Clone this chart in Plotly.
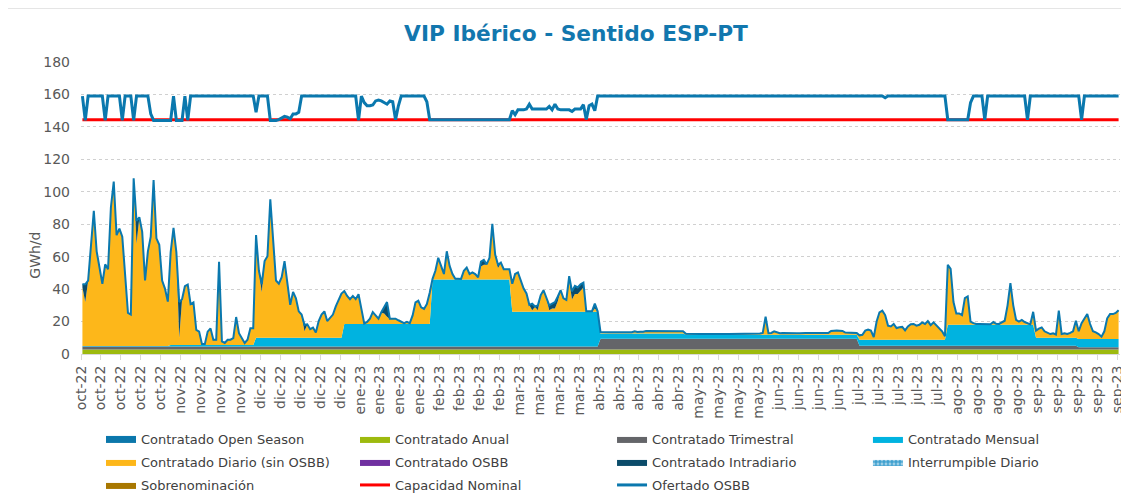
import numpy as np
import pandas as pd
import plotly.graph_objects as go

# días del periodo (gas day), oct-22 a sep-23
fechas = pd.date_range("2022-10-01", "2023-09-30", freq="D")
meses = ["ene", "feb", "mar", "abr", "may", "jun", "jul", "ago", "sep", "oct", "nov", "dic"]

# productos de plazo fijo: valor por tramo (GWh/d)
inicio_tramo = ["2022-10-01", "2022-11-01", "2022-12-01", "2023-01-01", "2023-02-01", "2023-03-01",
                "2023-04-01", "2023-05-01", "2023-07-01", "2023-08-01", "2023-09-01", "2023-09-16"]
anual = [2.7, 2.7, 2.7, 2.7, 2.7, 2.7, 2.7, 2.7, 2.7, 2.7, 2.7, 2.7]
trimestral = [2.0, 2.0, 2.0, 2.0, 2.0, 2.0, 6.7, 6.7, 2.4, 2.4, 2.4, 1.5]
mensual = [0.3, 0.8, 5.3, 13.8, 41.3, 21.3, 3.3, 2.5, 3.7, 12.9, 4.9, 5.0]

# contratado diario (sin OSBB), por día
diario = (
    # oct-22
    [36, 27, 40, 64, 83, 58, 49, 38, 50, 47, 85, 101, 68, 72, 67, 44, 20, 19, 103, 63, 79, 70, 40, 58,
     67, 102, 66, 62, 40, 35, 27]
    # nov-22
    + [57, 72, 57, 4.5, 28, 36, 37, 25, 26, 9, 8, 0.3, 0.3, 8, 10, 3, 3, 51, 2, 1, 3, 3, 4, 17, 7, 4,
       1, 3, 10, 10]
    # dic-22
    + [63, 41, 28, 47, 50, 85, 60, 35, 33, 37, 47, 33, 20, 28, 24, 16, 14, 4, 8, 5, 6, 3, 10, 14, 16,
       10, 12, 14, 19, 23, 27]
    # ene-23
    + [20, 17, 15, 17, 15, 18, 9, 0, 1, 3, 7, 5, 3, 7, 6.5, 4.5, 3, 3, 3, 2, 1, 0.2, 1, 0.2, 5, 13,
       14, 10, 9, 12, 19]
    # feb-23
    + [0, 5, 13, 8, 3, 17, 8, 3, 0.1, 0.1, 0, 5, 7, 3, 4, 3, 1, 8, 9, 9, 13, 34, 15, 7, 10, 6, 6, 6]
    # mar-23
    + [17, 23, 24, 19, 14, 11, 4, 1, 3, 1, 10, 13, 8, 1, 2, 2, 6.5, 13, 8, 7, 19, 7.6, 11, 11, 13, 15,
       0, 0, 0, 2, 0]
    # abr-23
    + [0.6, 0.4, 0.4, 0.4, 0.4, 0.4, 0.4, 0.4, 0.4, 0.4, 0.4, 0.4, 1.0, 0.6, 0.7, 0.7, 1.2, 1.2, 1.2,
       1.2, 0.9, 0.9, 0.9, 0.9, 0.9, 0.9, 1.0, 1.0, 1.0, 1.0]
    # may-23
    + [0.3, 0.2, 0.2, 0.1, 0.1, 0.2, 0.2, 0.1, 0.1, 0.1, 0.2, 0.2, 0.3, 0.2, 0.1, 0.1, 0.1, 0.4, 0.2,
       0.2, 0.2, 0.3, 0.2, 0.2, 0.3, 0.3, 0.4, 0.8, 10.8, 0.6, 0.8]
    # jun-23
    + [1.8, 1.0, 0.6, 0.7, 0.6, 0.6, 0.7, 0.7, 0.6, 0.6, 0.8, 0.8, 0.7, 0.6, 0.6, 0.7, 0.8, 0.8, 0.7,
       0.7, 2.0, 2.3, 2.3, 2.2, 2.0, 1.0, 1.0, 0.9, 0.9, 0.8]
    # jul-23
    + [2.4, 2.7, 5.3, 5.9, 5.3, 1.4, 10.9, 16.6, 17.6, 14.9, 8.4, 7.9, 9.4, 6.9, 7.4, 7.6, 5.5, 7.9,
       9.3, 9.4, 8.4, 8.9, 10.4, 9.4, 11.2, 8.7, 10.4, 8.4, 6.7, 4.9, 1.9]
    # ago-23
    + [36.7, 34.2, 13.7, 6.7, 6.7, 5.7, 16.2, 17.2, 1.7, 0.7, 0.2, 0.2, 0.2, 0.2, 0.1, 0, 1.4, 0.3,
       0.2, 1.4, 2.2, 11.7, 25.4, 11.7, 2.7, 1.7, 2.7, 1.4, 0.7, 0, 7.7]
    # sep-23
    + [4.1, 5.3, 6.1, 3.7, 2.7, 2, 2.4, 1.7, 16.4, 2, 2.4, 2, 2.7, 3.7, 10.2, 4.5, 9.5, 12.5, 15.1, 9,
       4.5, 3.8, 2.8, 1.2, 4.5, 12.5, 15.1, 15.1, 15.8, 17.5]
)

intradiario = (
    [2, 11, 0.3, 0.3, 0.3, 0.3, 0.3, 0.3, 0.3, 0.3, 0.3, 0.3, 0.3, 0.3, 0.3, 0.3, 0.3, 0.3, 0.3, 14,
     0.3, 0.3, 0.3, 0.3, 0.3, 0.3, 0.3, 0.3, 0.3, 0.3, 0.3]
    + [0.3, 0.3, 0.3, 22, 0.3, 0.3, 0.3, 0.3, 0.3, 0.3, 0.3, 0.3, 0.3, 0.3, 0.3, 0.3, 0.3, 0.3, 0.3,
       0.3, 0.3, 0.3, 0.3, 0.3, 0.3, 0.3, 0.3, 0.3, 0.3, 0.3]
    + [0.3, 0.3, 5, 0.3, 0.3, 0.3, 0.3, 0.3, 0.3, 0.3, 0.3, 0.3, 0.3, 0.3, 0.3, 0.3, 0.3, 4, 0.3, 0.3,
       0.3, 0.3, 0.3, 0.3, 0.3, 0.3, 0.3, 0.3, 0.3, 0.3, 0.3]
    + [0.3, 0.3, 0.3, 0.3, 0.3, 0.3, 0.3, 0.3, 0.3, 0.3, 0.3, 0.3, 0.3, 0.3, 4, 9, 0.3, 0.3, 0.3, 0.3,
       0.3, 0.3, 0.3, 0.3, 0.3, 0.3, 0.3, 0.3, 0.3, 0.3, 0.3]
    + [0.3, 0.3, 0.3, 0.3, 0.3, 0.3, 0.3, 0.3, 0.3, 0.3, 0.3, 0.3, 0.3, 0.3, 0.3, 0.3, 0.3, 3, 3, 0.3,
       0.3, 0.3, 0.3, 2, 0.3, 0.3, 0.3, 0.3]
    + [0.3, 0.3, 0.3, 0.3, 0.3, 0.3, 0.3, 4, 0.3, 3, 0.3, 0.3, 0.3, 3, 3, 4, 3, 0.3, 0.3, 0.3, 3, 5,
       5, 4, 4, 3, 0.3, 0.3, 0.3, 3, 0.3]
    + [0.3, 0.3, 0.3, 0.3, 0.3, 0.3, 0.3, 0.3, 0.3, 0.3, 0.3, 0.3, 0.3, 0.3, 0.3, 0.3, 0.3, 0.3, 0.3,
       0.3, 0.3, 0.3, 0.3, 0.3, 0.3, 0.3, 0.3, 0.3, 0.3, 0.3]
    + [0.3, 0.3, 0.3, 0.3, 0.3, 0.3, 0.3, 0.3, 0.3, 0.3, 0.3, 0.3, 0.3, 0.3, 0.3, 0.3, 0.3, 0.3, 0.3,
       0.3, 0.3, 0.3, 0.3, 0.3, 0.3, 0.3, 0.3, 0.3, 0.3, 0.3, 0.3]
    + [0.3, 0.3, 0.3, 0.3, 0.3, 0.3, 0.3, 0.3, 0.3, 0.3, 0.3, 0.3, 0.3, 0.3, 0.3, 0.3, 0.3, 0.3, 0.3,
       0.3, 0.3, 0.3, 0.3, 0.3, 0.3, 0.3, 0.3, 0.3, 0.3, 0.3]
    + [0.3, 0.3, 0.3, 0.3, 0.3, 0.3, 0.3, 0.3, 0.3, 0.3, 0.3, 0.3, 0.3, 0.3, 0.3, 0.3, 0.3, 0.3, 0.3,
       0.3, 0.3, 0.3, 0.3, 0.3, 0.3, 0.3, 0.3, 0.3, 0.3, 0.3, 0.3]
    + [0.3, 0.3, 0.3, 0.3, 0.3, 0.3, 0.3, 0.3, 0.3, 0.3, 0.3, 0.3, 0.3, 0.3, 0.3, 0.3, 0.3, 0.3, 0.3,
       0.3, 0.3, 0.3, 0.3, 0.3, 0.3, 0.3, 0.3, 0.3, 0.3, 0.3, 0.3]
    + [0.3, 0.3, 0.3, 0.3, 0.3, 0.3, 0.3, 0.3, 0.3, 0.3, 0.3, 0.3, 0.3, 0.3, 0.3, 0.3, 0.3, 0.3, 0.3,
       0.3, 0.3, 0.3, 0.3, 0.3, 0.3, 0.3, 0.3, 0.3, 0.3, 0.3]
)

ofertado_osbb = (
    [159, 144, 159, 159, 159, 159, 159, 159, 144, 159, 159, 159, 159, 159, 144, 159, 159, 159, 144,
     159, 159, 159, 159, 159, 148, 144, 144, 144, 144, 144, 144]
    + [144, 159, 144, 144, 144, 159, 144, 159, 159, 159, 159, 159, 159, 159, 159, 159, 159, 159, 159,
       159, 159, 159, 159, 159, 159, 159, 159, 159, 159, 159]
    + [149, 159, 159, 159, 159, 144, 144, 144, 144.5, 145.5, 146.5, 146, 145, 148, 148, 149, 159, 159,
       159, 159, 159, 159, 159, 159, 159, 159, 159, 159, 159, 159, 159]
    + [159, 159, 159, 159, 159, 144, 159, 155, 153, 153, 153.5, 156, 156.5, 156, 155, 154, 156, 155.5,
       144.4, 153, 159, 159, 159, 159, 159, 159, 159, 159, 159, 155.5, 144.4]
    + [144.4, 144.4, 144.4, 144.4, 144.4, 144.4, 144.4, 144.4, 144.4, 144.4, 144.4, 144.4, 144.4,
       144.4, 144.4, 144.4, 144.4, 144.4, 144.4, 144.4, 144.4, 144.4, 144.4, 144.4, 144.4, 144.4,
       144.4, 144.4]
    + [150, 147.5, 150.5, 150.5, 150.5, 151, 154, 151, 151, 151, 151, 151, 151, 152.6, 150.5, 154, 151,
       150.5, 150.5, 150.5, 150.5, 149.5, 151, 151, 151, 153.7, 144.6, 153, 154, 150, 159]
    + [159, 159, 159, 159, 159, 159, 159, 159, 159, 159, 159, 159, 159, 159, 159, 159, 159, 159, 159,
       159, 159, 159, 159, 159, 159, 159, 159, 159, 159, 159]
    + [159, 159, 159, 159, 159, 159, 159, 159, 159, 159, 159, 159, 159, 159, 159, 159, 159, 159, 159,
       159, 159, 159, 159, 159, 159, 159, 159, 159, 159, 159, 159]
    + [159, 159, 159, 159, 159, 159, 159, 159, 159, 159, 159, 159, 159, 159, 159, 159, 159, 159, 159,
       159, 159, 159, 159, 159, 159, 159, 159, 159, 159, 159]
    + [159, 159, 159, 159, 159, 159, 159, 159, 159, 158, 159, 159, 159, 159, 159, 159, 159, 159, 159,
       159, 159, 159, 159, 159, 159, 159, 159, 159, 159, 159, 159]
    + [144.4, 144.4, 144.4, 144.4, 144.4, 144.4, 144.4, 144.4, 155, 159, 159, 159, 159, 144.4, 159,
       159, 159, 159, 159, 159, 159, 159, 159, 159, 159, 159, 159, 159, 144.4, 159, 159]
    + [159, 159, 159, 159, 159, 159, 159, 159, 159, 159, 159, 159, 159, 159, 159, 159, 144.4, 159, 159,
       159, 159, 159, 159, 159, 159, 159, 159, 159, 159, 159]
)

capacidad_nominal = 144.4

# series sin actividad en el periodo
open_season = [0] * len(fechas)
osbb = [0] * len(fechas)
interrumpible = [0] * len(fechas)
sobrenominacion = [0] * len(fechas)

# valores por tramo -> por día
idx = np.searchsorted(pd.to_datetime(inicio_tramo).values, fechas.values, side="right") - 1
anual_d = np.array(anual)[idx]
trimestral_d = np.array(trimestral)[idx]
mensual_d = np.array(mensual)[idx]

font = "DejaVu Sans"
gris = "#595959"

fig = go.Figure()

# leyenda en 4 columnas (legend..legend4), una fila por posición
def area(nombre, y, color, col, fila_n, pattern=None, linea=None):
    fig.add_trace(go.Scatter(
        x=fechas, y=y, name=nombre, stackgroup="c", mode="lines",
        line=linea if linea else dict(width=0, color=color),
        fillcolor=color, fillpattern=pattern, legend=col, legendrank=fila_n,
        legendgroup=nombre, hoverinfo="skip",
    ))

area("Contratado Anual", anual_d, "#9DBA0E", "legend2", 1)
area("Contratado Trimestral", trimestral_d, "#646569", "legend3", 1)
area("Contratado Mensual", mensual_d, "#00B3E0", "legend4", 1)
area("Contratado Diario (sin OSBB)", diario, "#FDB71A", "legend", 2)
area("Contratado OSBB", osbb, "#7030A0", "legend2", 2)
area("Contratado Intradiario", intradiario, "#0B4C6A", "legend3", 2)
area("Interrumpible Diario", interrumpible, "#3FA0CF", "legend4", 2,
     pattern=dict(shape=".", fgcolor="white", bgcolor="#3FA0CF", size=4, solidity=0.4))
area("Sobrenominación", sobrenominacion, "#A87700", "legend", 3)
area("Contratado Open Season", open_season, "#0C77AA", "legend", 1,
     linea=dict(width=2, color="#0A78AE"))

fig.add_trace(go.Scatter(
    x=fechas, y=[capacidad_nominal] * len(fechas), name="Capacidad Nominal", mode="lines",
    line=dict(color="#FF0000", width=3), legend="legend2", legendrank=3,
    legendgroup="Capacidad Nominal", hoverinfo="skip",
))
fig.add_trace(go.Scatter(
    x=fechas, y=ofertado_osbb, name="Ofertado OSBB", mode="lines",
    line=dict(color="#0A78AE", width=3), legend="legend3", legendrank=3,
    legendgroup="Ofertado OSBB", hoverinfo="skip",
))

tick_fechas = pd.date_range("2022-10-01", "2023-09-30", freq="7D")
tickvals = tick_fechas - pd.Timedelta(hours=12)
ticktext = [meses[f.month - 1] + "-" + f.strftime("%y") for f in tick_fechas]

# la página deja 8px de margen en el body: el lienzo se reduce en consecuencia
W, H = 1121, 489

def columna(x):
    return dict(orientation="v", x=x, xanchor="left", y=-0.2397, yanchor="top",
                tracegroupgap=3.1, traceorder="grouped",
                font=dict(family=font, size=13, color="#404040"), bgcolor="rgba(0,0,0,0)")

fig.update_layout(
    width=W, height=H,
    margin=dict(l=73, r=9, t=54, b=143, autoexpand=False),
    paper_bgcolor="white", plot_bgcolor="white",
    font=dict(family=font, size=13, color=gris),
    title=dict(text="<b>VIP Ibérico - Sentido ESP-PT</b>", x=568 / W, xanchor="center",
               y=1 - 25 / H, yanchor="middle",
               font=dict(family=font, size=21.7, color="#1277AE")),
    showlegend=True,
    legend=columna(0.01925),
    legend2=columna(0.2637),
    legend3=columna(0.5111),
    legend4=columna(0.7574),
    xaxis=dict(
        type="date",
        range=[fechas[0] - pd.Timedelta(hours=12), fechas[-1] + pd.Timedelta(hours=12)],
        tickvals=tickvals, ticktext=ticktext, tickangle=-90,
        showgrid=False, showline=True, linecolor="#D9D9D9", linewidth=1,
        ticks="outside", ticklen=5, tickcolor="#D9D9D9",
        tickfont=dict(family=font, size=14, color=gris),
    ),
    yaxis=dict(
        range=[0, 180], dtick=20, showgrid=True, gridcolor="#D0D0D0", griddash="dot",
        zeroline=False, showline=False, ticks="", ticklabelstandoff=10,
        tickfont=dict(family=font, size=14, color=gris),
    ),
    annotations=[dict(text="GWh/d", xref="paper", yref="paper", x=-0.0443, y=0.34,
                      xanchor="center", yanchor="middle", textangle=-90, showarrow=False,
                      font=dict(family=font, size=14, color=gris))],
    # marco del gráfico (sólo asoma el borde superior)
    shapes=[dict(type="rect", xref="paper", yref="paper",
                 x0=(4.5 - 81) / 1039, x1=1.05,
                 y0=-0.6, y1=(354.3 - 8.5) / 292,
                 line=dict(color="#D9D9D9", width=1), layer="below")],
)

fig.write_html("out.html")
